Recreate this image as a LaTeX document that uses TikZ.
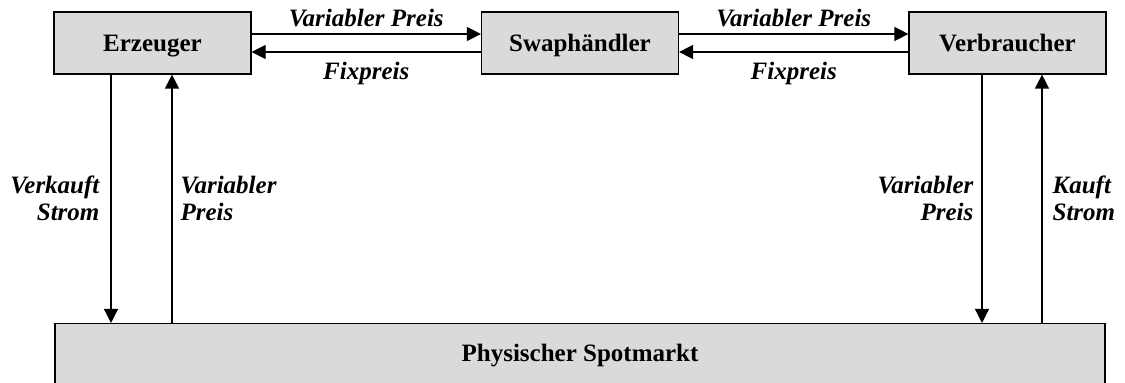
\documentclass[tikz,border=0pt]{standalone}
\usepackage{fontspec}
\setmainfont{Liberation Serif}
\usepackage{xcolor}
\usetikzlibrary{arrows.meta,positioning,calc}
\definecolor{boxgray}{HTML}{DADADA}

\begin{document}
\begin{tikzpicture}[x=0.5pt,y=-0.5pt,line width=0.6pt,
   >={Triangle[length=7pt,width=7pt]},
   font=\fontsize{12.5pt}{13.5pt}\selectfont,
   party/.style={rectangle,draw,fill=boxgray,minimum width=98.5pt,
     minimum height=31pt,inner sep=0pt,text height=9pt,text depth=0pt,
     font=\fontsize{12.5pt}{13.5pt}\selectfont\bfseries},
   lbl/.style={inner sep=0pt,font=\fontsize{12.5pt}{13.5pt}\selectfont\bfseries\itshape}]
  \useasboundingbox (0,0) rectangle (1125,383);
  \node[party] (erz)  at (152.5,43)  {Erzeuger};
  \node[party] (swap) at (580,43)    {Swaphändler};
  \node[party] (verb) at (1007.5,43) {Verbraucher};
  \node[party,minimum width=525pt,text depth=2pt,anchor=north] (spot) at (580,323) {Physischer Spotmarkt};
  % swaps
  \draw[->] ([yshift=4.5pt]erz.east) -- ([yshift=4.5pt]swap.west) node[lbl,midway,above=3.5pt]{Variabler Preis};
  \draw[->] ([yshift=-4.5pt]swap.west) -- ([yshift=-4.5pt]erz.east) node[lbl,midway,below=5pt]{Fixpreis};
  \draw[->] ([yshift=4.5pt]swap.east) -- ([yshift=4.5pt]verb.west) node[lbl,midway,above=3.5pt]{Variabler Preis};
  \draw[->] ([yshift=-4.5pt]verb.west) -- ([yshift=-4.5pt]swap.east) node[lbl,midway,below=5pt]{Fixpreis};
  % spot market
  \coordinate (e1) at ([xshift=-20.75pt]erz.south);
  \coordinate (e2) at ([xshift=9.75pt]erz.south);
  \coordinate (v1) at ([xshift=-12.75pt]verb.south);
  \coordinate (v2) at ([xshift=17.25pt]verb.south);
  \draw[->] (e1) -- (e1 |- spot.north) node[lbl,midway,left=5.5pt,align=right]{Verkauft\\Strom};
  \draw[->] (e2 |- spot.north) -- (e2) node[lbl,midway,right=4pt,align=left]{Variabler\\Preis};
  \draw[->] (v1) -- (v1 |- spot.north) node[lbl,midway,left=4pt,align=right]{Variabler\\Preis};
  \draw[->] (v2 |- spot.north) -- (v2) node[lbl,midway,right=5pt,align=left]{Kauft\\Strom};
\end{tikzpicture}
\end{document}
